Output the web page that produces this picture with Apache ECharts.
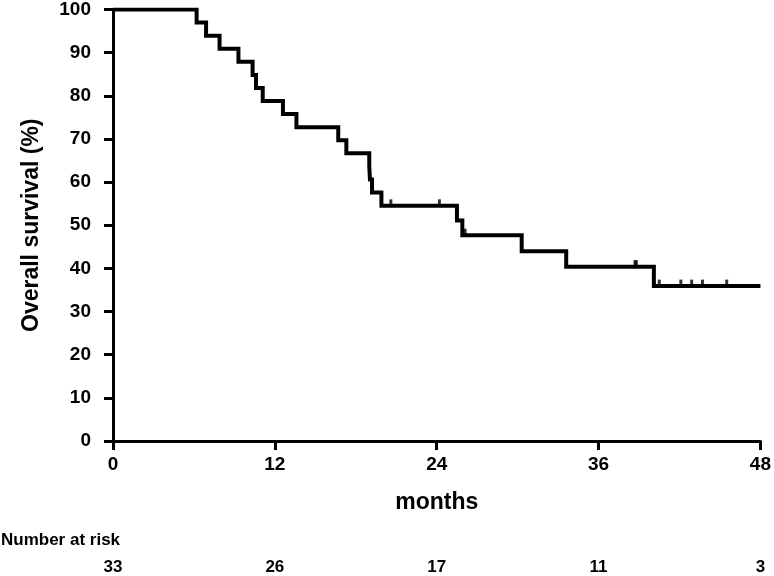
<!DOCTYPE html>
<html><head><meta charset="utf-8">
<script src="https://cdn.jsdelivr.net/npm/echarts@6/dist/echarts.min.js"></script>
<style>html,body{margin:0;padding:0;background:#fff}#c{width:774px;height:576px}</style>
</head><body><div id="c"></div>
<script>
// Kaplan-Meier steps: time (months) and survival (%) from that time on
var stepTimes = [0, 6.2, 6.9, 7.9, 9.3, 10.35, 10.6, 11.1, 12.6, 13.6, 16.7, 17.3, 19.0, 19.05, 19.2, 19.9, 25.5, 25.9, 30.3, 33.6, 40.1, 48];
var stepSurvival = [100, 97.0, 93.9, 90.9, 87.9, 84.8, 81.8, 78.8, 75.8, 72.7, 69.7, 66.7, 63.6, 60.6, 57.6, 54.5, 51.1, 47.7, 44.0, 40.4, 35.9, 35.9];
// censored observations (months)
var censorTimes = [20.6, 24.2, 26.1, 38.7, 38.8, 40.5, 42.1, 42.9, 43.7, 45.5];
// number at risk
var riskTimes = [0, 12, 24, 36, 48];
var riskCounts = [33, 26, 17, 11, 3];
var xTicks = [0, 12, 24, 36, 48];

function survAt(t) {
  var s = stepSurvival[0];
  for (var i = 0; i < stepTimes.length; i++) { if (stepTimes[i] <= t) s = stepSurvival[i]; }
  return s;
}
var lineData = stepTimes.map(function (t, i) { return [t, stepSurvival[i]]; });
var censorData = censorTimes.map(function (t) { return [t, survAt(t)]; });
var riskMap = {};
riskTimes.forEach(function (t, i) { riskMap[t] = riskCounts[i]; });

var FONT = 'Liberation Sans, Arial, sans-serif';
var chart = echarts.init(document.getElementById('c'), null, { renderer: 'canvas' });
chart.setOption({
  animation: false,
  backgroundColor: '#fff',
  grid: { left: 113, right: 13, top: 9, bottom: 135 },
  xAxis: [{
    type: 'value', min: 0, max: 48, interval: 12,
    name: 'months', nameLocation: 'middle', nameGap: 50,
    nameTextStyle: { fontFamily: FONT, fontWeight: 'bold', fontSize: 23, color: '#000' },
    axisLine: { onZero: false, lineStyle: { color: '#000', width: 3 } },
    axisTick: { length: 9, lineStyle: { color: '#000', width: 3 } },
    axisLabel: { margin: 14, fontFamily: FONT, fontWeight: 'bold', fontSize: 19, color: '#000',
      formatter: function (v) { return xTicks.indexOf(v) >= 0 ? String(v) : ''; } },
    splitLine: { show: false }
  }, {
    type: 'value', min: 0, max: 48, interval: 12, position: 'bottom', offset: 118,
    axisLine: { show: false }, axisTick: { show: false }, splitLine: { show: false },
    axisLabel: { margin: 0, fontFamily: FONT, fontWeight: 'bold', fontSize: 17, color: '#000',
      formatter: function (v) { return riskMap[v] !== undefined ? String(riskMap[v]) : ''; } }
  }],
  yAxis: {
    type: 'value', min: 0, max: 100, interval: 10,
    name: 'Overall survival (%)', nameLocation: 'middle', nameGap: 70,
    nameTextStyle: { fontFamily: FONT, fontWeight: 'bold', fontSize: 23, color: '#000' },
    axisLine: { show: true, onZero: false, lineStyle: { color: '#000', width: 3 } },
    axisTick: { show: true, length: 9, lineStyle: { color: '#000', width: 3 } },
    axisLabel: { margin: 22, fontFamily: FONT, fontWeight: 'bold', fontSize: 19, color: '#000' },
    splitLine: { show: false }
  },
  graphic: [{
    type: 'text', left: 1, top: 532,
    style: { text: 'Number at risk', font: 'bold 17px ' + FONT, fill: '#000' }
  }],
  series: [{
    type: 'line', data: lineData, step: 'end', showSymbol: false, symbol: 'none',
    lineStyle: { color: '#000', width: 4, join: 'miter' }, z: 3
  }, {
    type: 'scatter', data: censorData, symbol: 'rect', symbolSize: [3, 7], symbolOffset: [0, -3],
    itemStyle: { color: '#000' }, z: 4
  }]
});
</script></body></html>
